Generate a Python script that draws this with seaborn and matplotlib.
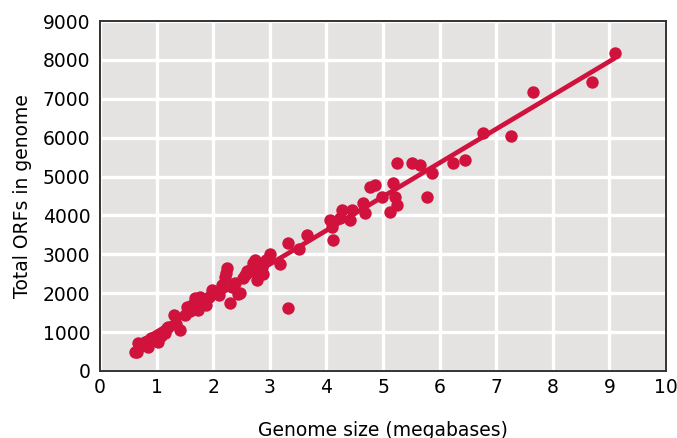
import numpy as np
import pandas as pd
import seaborn as sns
import matplotlib.pyplot as plt

# genome size (Mb) and total ORFs
genome_mb = [
    0.62, 0.66, 0.68, 0.72, 0.80, 0.85, 0.90, 1.00, 1.03, 1.08,
    1.15, 1.18, 1.21, 1.30, 1.35, 1.41, 1.50, 1.53, 1.59, 1.62,
    1.68, 1.70, 1.74, 1.77, 1.80, 1.86, 1.88, 1.92, 1.97, 2.06,
    2.10, 2.15, 2.21, 2.22, 2.24, 2.30, 2.34, 2.39, 2.44, 2.47,
    2.53, 2.56, 2.60, 2.65, 2.71, 2.73, 2.77, 2.80, 2.86, 2.88,
    2.94, 3.00, 3.18, 3.33, 3.33, 3.52, 3.65, 4.06, 4.09, 4.12,
    4.24, 4.27, 4.42, 4.45, 4.65, 4.68, 4.77, 4.86, 4.98, 5.12,
    5.18, 5.21, 5.24, 5.24, 5.51, 5.65, 5.78, 5.86, 6.24, 6.45,
    6.77, 7.26, 7.65, 8.69, 9.10,
]
total_orfs = [
    500, 480, 710, 640, 750, 620, 860, 880, 750, 900,
    970, 1100, 1140, 1440, 1220, 1050, 1450, 1650, 1530, 1700,
    1870, 1600, 1570, 1910, 1750, 1830, 1700, 1900, 2080, 2000,
    1950, 2210, 2420, 2520, 2640, 1740, 2150, 2250, 1980, 2000,
    2400, 2470, 2580, 2600, 2770, 2850, 2340, 2550, 2680, 2500,
    2850, 3020, 2750, 3290, 1620, 3130, 3500, 3880, 3710, 3370,
    3930, 4140, 3880, 4140, 4320, 4060, 4730, 4780, 4470, 4090,
    4830, 4470, 4270, 5350, 5350, 5300, 4470, 5090, 5350, 5420,
    6120, 6040, 7170, 7430, 8170,
]
x_ticks = list(range(0, 11))
y_ticks = list(range(0, 9001, 1000))

df = pd.DataFrame({"Genome size (megabases)": genome_mb,
                   "Total ORFs in genome": total_orfs})

red = "#d0123d"

sns.set_style("whitegrid", {
    "axes.facecolor": "#e4e3e2",
    "grid.color": "white",
    "axes.edgecolor": "#333333",
    "text.color": "black",
    "axes.labelcolor": "black",
    "xtick.color": "black",
    "ytick.color": "black",
})
plt.rcParams["font.family"] = ["DejaVu Sans"]

fig = plt.figure(figsize=(6.77, 4.38), dpi=100)
ax = fig.add_axes([0.1477, 0.153, 0.8361, 0.799])

sns.regplot(
    data=df,
    x="Genome size (megabases)",
    y="Total ORFs in genome",
    ci=None,
    color=red,
    scatter_kws={"s": 80, "alpha": 1, "linewidths": 0, "zorder": 3},
    line_kws={"lw": 3.4, "zorder": 4, "solid_capstyle": "butt"},
    ax=ax,
)

ax.set_xlim(0, 10)
ax.set_ylim(0, 9000)
ax.set_xticks(x_ticks)
ax.set_yticks(y_ticks)
ax.grid(True, color="white", lw=2.4)
ax.set_axisbelow(True)
for s in ax.spines.values():
    s.set_linewidth(1.4)
    s.set_color("#333333")
ax.tick_params(axis="x", length=0, labelsize=13.5, pad=5, labelcolor="black")
ax.tick_params(axis="y", length=0, labelsize=13.5, pad=7, labelcolor="black")
ax.set_xlabel("Genome size (megabases)", fontsize=13.5, labelpad=17, color="black")
ax.set_ylabel("Total ORFs in genome", fontsize=13.5, labelpad=8, color="black")

fig.savefig("out.png", dpi=100)
